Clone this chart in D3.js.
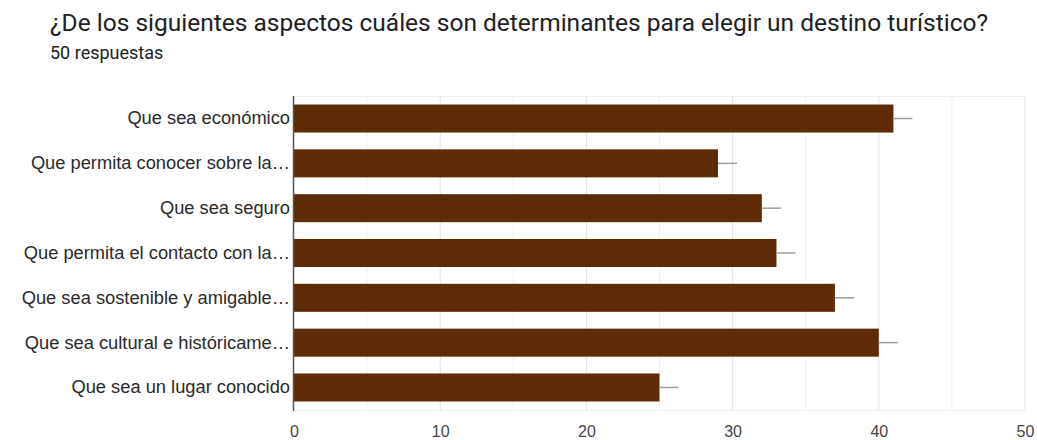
<!DOCTYPE html>
<html>
<head>
<meta charset="utf-8">
<script src="https://cdn.jsdelivr.net/npm/d3@7"></script>
<style>
  html, body { margin: 0; padding: 0; background: #ffffff; }
  svg { display: block; }
</style>
</head>
<body>
<svg id="chart" width="1037" height="440"></svg>
<script>
// Survey responses per aspect
const categories = [
  "Que sea económico",
  "Que permita conocer sobre la…",
  "Que sea seguro",
  "Que permita el contacto con la…",
  "Que sea sostenible y amigable…",
  "Que sea cultural e históricame…",
  "Que sea un lugar conocido"
];
const counts = [41, 29, 32, 33, 37, 40, 25];
const xTicks = [0, 10, 20, 30, 40, 50];
const minorTicks = [5, 15, 25, 35, 45];
const titleText = "¿De los siguientes aspectos cuáles son determinantes para elegir un destino turístico?";
const subtitleText = "50 respuestas";

const whiskerLen = 1.3;   // short grey marker after each bar, in value units

const svg = d3.select("#chart");
const plotTop = 96, plotBottom = 410;

const x = d3.scaleLinear().domain([0, 50]).range([294, 1025]);
const y = d3.scaleBand().domain(categories).range([plotTop, plotBottom])
  .paddingInner(0.375).paddingOuter(0.19);

// Title and response count
svg.append("text")
  .attr("x", 50).attr("y", 31)
  .attr("font-family", "Roboto, 'Open Sans', sans-serif")
  .attr("font-size", 24.5)
  .attr("fill", "#202124")
  .text(titleText);
svg.append("text")
  .attr("x", 50).attr("y", 59)
  .attr("font-family", "Roboto, sans-serif")
  .attr("font-size", 18)
  .attr("fill", "#202124")
  .text(subtitleText);

// Gridlines
const grid = svg.append("g");
grid.selectAll("line.minor").data(minorTicks).join("line")
  .attr("class", "minor")
  .attr("x1", d => x(d)).attr("x2", d => x(d))
  .attr("y1", plotTop).attr("y2", plotBottom)
  .attr("stroke", "#f2f2f2").attr("stroke-width", 1);
grid.selectAll("line.major").data(xTicks.slice(1)).join("line")
  .attr("class", "major")
  .attr("x1", d => x(d)).attr("x2", d => x(d))
  .attr("y1", plotTop).attr("y2", plotBottom)
  .attr("stroke", "#e4e4e4").attr("stroke-width", 1);
// top and bottom frame lines
grid.append("line")
  .attr("x1", x(0)).attr("x2", x(50))
  .attr("y1", plotTop + 0.5).attr("y2", plotTop + 0.5)
  .attr("stroke", "#eeeeee");
grid.append("line")
  .attr("x1", x(0)).attr("x2", x(50))
  .attr("y1", plotBottom + 0.5).attr("y2", plotBottom + 0.5)
  .attr("stroke", "#eeeeee");

// Bars
svg.append("g").selectAll("rect").data(counts).join("rect")
  .attr("x", x(0))
  .attr("y", (d, i) => y(categories[i]))
  .attr("width", d => x(d) - x(0))
  .attr("height", y.bandwidth())
  .attr("fill", "#5e2b05");

// Whisker markers
svg.append("g").selectAll("line").data(counts).join("line")
  .attr("x1", d => x(d)).attr("x2", d => x(d + whiskerLen))
  .attr("y1", (d, i) => y(categories[i]) + y.bandwidth() / 2)
  .attr("y2", (d, i) => y(categories[i]) + y.bandwidth() / 2)
  .attr("stroke", "#9e9e9e").attr("stroke-width", 1.5);

// Category axis
const yAxis = svg.append("g")
  .attr("transform", `translate(${x(0)},0)`)
  .call(d3.axisLeft(y).tickSize(0).tickPadding(4));
yAxis.select(".domain").remove();
yAxis.selectAll("text")
  .attr("font-family", "Arial, 'Liberation Sans', sans-serif")
  .attr("font-size", 18.3)
  .attr("fill", "#2a2a2a");
svg.append("line")
  .attr("x1", x(0) - 0.5).attr("x2", x(0) - 0.5)
  .attr("y1", plotTop).attr("y2", plotBottom + 1)
  .attr("stroke", "#555555").attr("stroke-width", 1.5);

// Value axis
const xAxis = svg.append("g")
  .attr("transform", `translate(0,${plotBottom})`)
  .call(d3.axisBottom(x).tickValues(xTicks).tickSize(0).tickPadding(16));
xAxis.select(".domain").remove();
xAxis.selectAll("text")
  .attr("font-family", "Arial, 'Liberation Sans', sans-serif")
  .attr("font-size", 16)
  .attr("fill", "#444444");
</script>
</body>
</html>
